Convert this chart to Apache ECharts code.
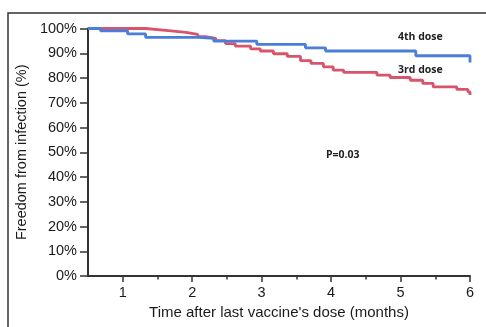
<!DOCTYPE html>
<html><head><meta charset="utf-8">
<script src="https://cdn.jsdelivr.net/npm/echarts@6/dist/echarts.min.js"></script>
<style>html,body{margin:0;padding:0;background:#fff}#c{width:486px;height:327px}</style>
</head><body><div id="c"></div>
<script>
// Kaplan-Meier step points [month, percent]
const doseFourX = [0.5, 0.68, 1.07, 1.33, 2.09, 2.31, 2.93, 3.63, 3.92, 5.22, 6.0];
const doseFourY = [100, 99.1, 97.8, 96.4, 96.0, 94.9, 93.6, 92.2, 90.9, 89.0, 86.3];
const doseThreeX = [0.5, 1.33, 1.62, 1.91, 2.08, 2.19, 2.34, 2.48, 2.62, 2.84, 2.98, 3.17, 3.37, 3.56, 3.71, 3.89, 4.03, 4.18, 4.66, 4.85, 5.14, 5.32, 5.47, 5.81, 5.97, 6.0];
const doseThreeY = [100, 99.2, 98.4, 97.6, 96.7, 96.0, 95.1, 93.9, 92.9, 91.8, 90.9, 89.8, 88.7, 87.0, 85.9, 84.5, 83.2, 82.3, 81.2, 80.2, 79.1, 77.8, 76.4, 75.4, 74.4, 73.1];
const xMajorTicks = [1, 2, 3, 4, 5, 6];
const xMinorTicks = [1.5, 2.5, 3.5, 4.5, 5.5];
const seriesNames = ['4th dose', '3rd dose'];
const pLabel = 'P=0.03';
const xTitle = "Time after last vaccine's dose (months)";
const yTitle = 'Freedom from infection (%)';

const zip = (xs, ys) => xs.map((x, i) => [x, ys[i]]);
const font = '"Liberation Sans", Arial, Helvetica, sans-serif';
const chart = echarts.init(document.getElementById('c'), null, {renderer: 'canvas'});
chart.setOption({
  animation: false,
  backgroundColor: '#fff',
  grid: {left: 88, right: 16, top: 28.5, bottom: 51},
  xAxis: [{
    type: 'value', min: 0.5, max: 6,
    name: xTitle, nameLocation: 'middle', nameGap: 29,
    nameTextStyle: {fontFamily: font, fontSize: 15, color: '#1a1a1a'},
    axisLine: {show: true, onZero: false, lineStyle: {color: '#333', width: 2}},
    axisTick: {show: true, customValues: xMajorTicks, length: 6, lineStyle: {color: '#333', width: 1.5}},
    axisLabel: {customValues: xMajorTicks, margin: 9, fontFamily: font, fontSize: 14.5, color: '#1a1a1a'},
    splitLine: {show: false}
  }, {
    type: 'value', min: 0.5, max: 6, position: 'bottom',
    axisLine: {show: false},
    axisTick: {show: true, customValues: xMinorTicks, length: 3.5, lineStyle: {color: '#333', width: 1.5}},
    axisLabel: {show: false},
    splitLine: {show: false}
  }],
  yAxis: {
    type: 'value', min: 0, max: 100, interval: 10,
    name: yTitle, nameLocation: 'middle', nameGap: 57,
    nameTextStyle: {fontFamily: font, fontSize: 14.5, color: '#1a1a1a'},
    axisLine: {show: true, lineStyle: {color: '#333', width: 2}},
    axisTick: {show: true, length: 8, lineStyle: {color: '#333', width: 1.5}},
    axisLabel: {formatter: '{value}%', margin: 11, fontFamily: font, fontSize: 14.5, color: '#1a1a1a'},
    splitLine: {show: false}
  },
  series: [{
    name: seriesNames[0], type: 'line', step: 'end', xAxisIndex: 0,
    data: zip(doseFourX, doseFourY), showSymbol: false, symbol: 'none',
    lineStyle: {color: '#4A7ED8', width: 2.8}, z: 3
  }, {
    name: seriesNames[1], type: 'line', step: 'end', xAxisIndex: 0,
    data: zip(doseThreeX, doseThreeY), showSymbol: false, symbol: 'none',
    lineStyle: {color: '#D8546B', width: 2.8}, z: 2
  }],
  graphic: [
    {type: 'rect', shape: {x: 8, y: 13, width: 490, height: 330}, style: {fill: null, stroke: '#333', lineWidth: 1.5}, silent: true},
    {type: 'text', x: 398, y: 37, style: {text: seriesNames[0], font: 'bold 10.5px "Open Sans", Arial, sans-serif', fill: '#222', verticalAlign: 'middle'}},
    {type: 'text', x: 398, y: 70, style: {text: seriesNames[1], font: 'bold 10.5px "Open Sans", Arial, sans-serif', fill: '#222', verticalAlign: 'middle'}},
    {type: 'text', x: 326, y: 155, style: {text: pLabel, font: 'bold 10.5px "Open Sans", Arial, sans-serif', fill: '#222', verticalAlign: 'middle'}}
  ]
});
</script></body></html>
